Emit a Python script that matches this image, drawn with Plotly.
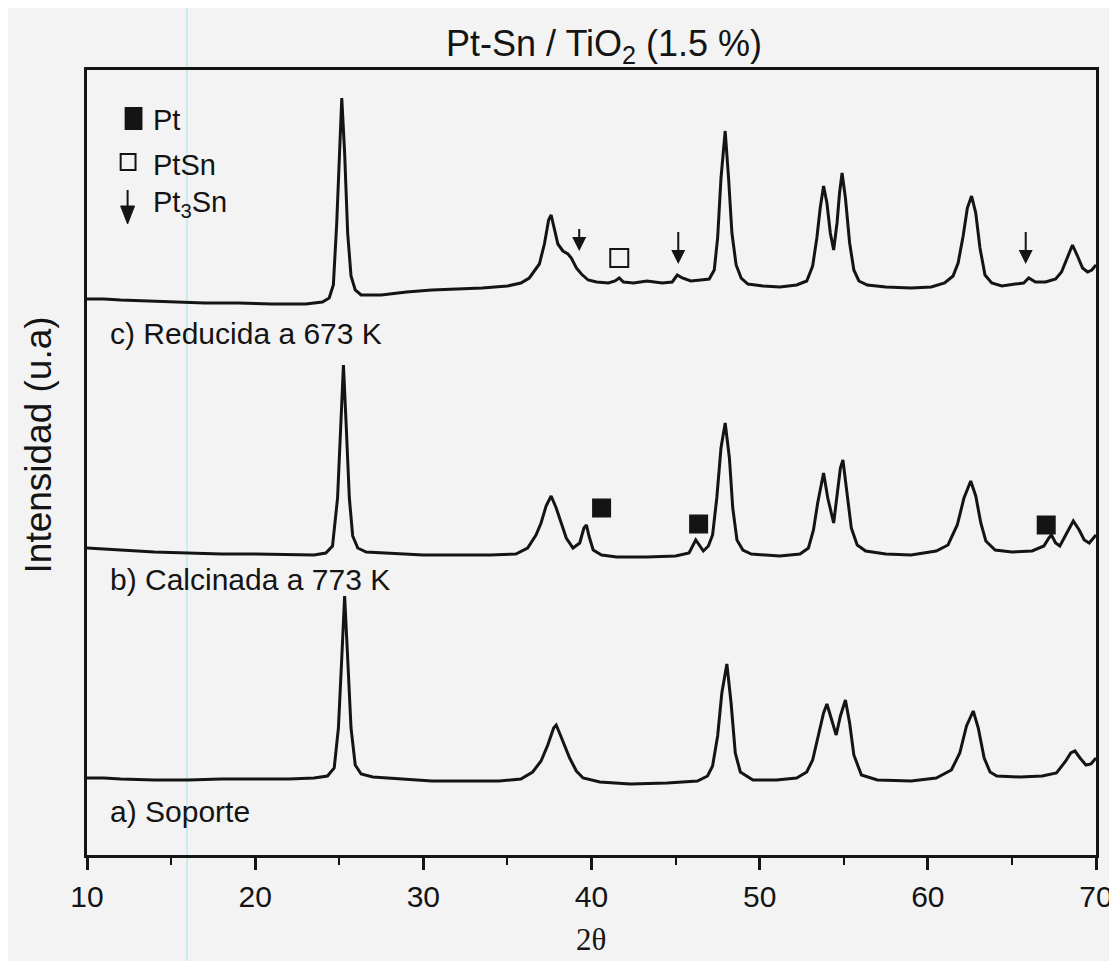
import plotly.graph_objects as go

# ---------------- data (2-theta in degrees, intensity in arbitrary units, stacked) -------------
theta_c = [10.0, 11.0, 12.0, 13.5, 15.0, 17.0, 19.0, 21.0, 23.0, 24.0, 24.4, 24.65, 24.85, 25.0, 25.15,
           25.32, 25.5, 25.7, 25.95, 26.3, 27.5, 29.0, 30.5, 32.0, 33.5, 35.0, 35.8, 36.3, 36.7, 36.9,
           37.2, 37.45, 37.6, 37.8, 38.0, 38.3, 38.6, 38.8, 39.1, 39.4, 39.8, 40.3, 41.0, 41.4, 41.65,
           41.9, 42.5, 43.3, 44.2, 44.8, 45.1, 45.4, 45.9, 46.5, 47.0, 47.3, 47.5, 47.7, 47.95, 48.15,
           48.35, 48.6, 48.9, 49.3, 50.2, 51.2, 52.2, 52.8, 53.15, 53.4, 53.6, 53.8, 54.0, 54.2, 54.4,
           54.6, 54.75, 54.9, 55.1, 55.35, 55.6, 55.9, 56.4, 57.5, 59.0, 60.2, 61.0, 61.5, 61.8, 62.1,
           62.35, 62.6, 62.85, 63.1, 63.4, 63.8, 64.4, 65.2, 65.7, 66.0, 66.4, 67.0, 67.6, 67.95, 68.25,
           68.6, 68.9, 69.2, 69.5, 69.75, 70.0]
int_c = [556, 556, 555, 554, 553, 552, 552, 551, 551, 553, 557, 570, 632, 702, 757,
         702, 622, 579, 565, 560, 560, 563, 565, 566, 567, 569, 572, 577, 587, 591,
         611, 635, 640, 627, 611, 604, 601, 597, 587, 581, 575, 573, 572, 574, 577,
         573, 572, 574, 572, 573, 580, 577, 574, 575, 576, 585, 617, 677, 724, 677,
         622, 590, 577, 571, 569, 568, 570, 574, 589, 617, 647, 669, 652, 622, 605,
         632, 662, 682, 657, 612, 585, 574, 570, 568, 567, 568, 572, 579, 592, 619,
         647, 659, 642, 607, 580, 572, 569, 571, 572, 577, 573, 573, 576, 583, 595,
         610, 599, 587, 583, 585, 590]

theta_b = [10.0, 11.0, 12.0, 14.0, 16.0, 18.0, 20.0, 22.0, 23.5, 24.2, 24.6, 24.9, 25.1, 25.25, 25.42,
           25.6, 25.8, 26.1, 26.6, 28.0, 30.0, 32.0, 34.0, 35.5, 36.2, 36.7, 37.0, 37.3, 37.6, 37.9,
           38.2, 38.5, 38.9, 39.3, 39.55, 39.7, 39.85, 40.1, 40.6, 41.5, 43.3, 45.0, 45.8, 46.2, 46.65,
           46.95, 47.2, 47.45, 47.7, 47.95, 48.2, 48.4, 48.65, 49.0, 49.5, 51.2, 52.4, 52.9, 53.2, 53.45,
           53.8, 54.05, 54.4, 54.6, 54.8, 54.95, 55.15, 55.45, 55.8, 56.3, 57.5, 59.0, 60.5, 61.2, 61.75,
           62.15, 62.55, 62.85, 63.15, 63.45, 64.0, 65.0, 66.2, 66.9, 67.2, 67.35, 67.6, 67.85, 68.2, 68.65,
           69.0, 69.3, 69.6, 69.85, 70.0]
int_b = [307, 306, 305, 303, 302, 301, 301, 300, 300, 302, 309, 357, 427, 490, 427,
         357, 319, 307, 303, 302, 300, 300, 300, 301, 307, 320, 332, 349, 359, 347,
         331, 317, 307, 312, 327, 330, 319, 305, 300, 298, 298, 299, 302, 315, 304,
         309, 320, 357, 407, 432, 397, 347, 315, 305, 301, 299, 301, 307, 325, 352,
         382, 357, 332, 357, 387, 395, 367, 327, 310, 304, 301, 300, 304, 310, 330,
         357, 374, 359, 332, 314, 305, 303, 304, 309, 317, 320, 312, 309, 320, 334,
         325, 315, 312, 317, 320]

theta_a = [10.0, 11.0, 12.0, 14.0, 16.0, 18.0, 20.0, 22.0, 23.5, 24.3, 24.7, 24.95, 25.15, 25.32, 25.5,
           25.7, 25.95, 26.3, 27.0, 28.5, 30.5, 32.5, 34.5, 35.8, 36.5, 37.0, 37.4, 37.75, 37.9, 38.1,
           38.4, 38.7, 39.1, 39.5, 40.5, 42.3, 44.5, 46.3, 46.9, 47.2, 47.5, 47.75, 48.05, 48.3, 48.55,
           48.85, 49.6, 51.0, 52.2, 52.8, 53.15, 53.5, 53.8, 54.0, 54.25, 54.55, 54.8, 55.1, 55.35, 55.6,
           56.05, 57.0, 59.0, 60.5, 61.4, 61.9, 62.3, 62.7, 63.0, 63.35, 63.7, 64.1, 65.5, 66.8, 67.65,
           68.2, 68.5, 68.75, 69.05, 69.4, 69.7, 70.0]
int_a = [77, 77, 76, 75, 75, 76, 76, 76, 77, 79, 87, 127, 197, 259, 197,
         127, 90, 81, 78, 76, 74, 74, 74, 76, 83, 94, 110, 127, 130, 122,
         109, 97, 84, 77, 73, 71, 72, 74, 79, 89, 119, 162, 191, 152, 102,
         83, 75, 75, 77, 83, 95, 120, 142, 151, 137, 120, 139, 155, 132, 100,
         80, 75, 74, 77, 85, 102, 129, 144, 127, 97, 83, 79, 78, 79, 82,
         94, 102, 104, 97, 90, 91, 97]

# phase marks
pt_theta = [40.6, 46.37, 67.04]          # Pt (filled squares, pattern b)
pt_level = [347, 331, 330]
ptsn_theta = [41.65]                     # PtSn (open square, pattern c)
ptsn_level = [597]
pt3sn_theta = [39.27, 45.16, 65.82]      # Pt3Sn (arrows, pattern c)
pt3sn_top = [626, 623, 623]
pt3sn_tip = [604, 591, 591]

curve_labels = ["c) Reducida a 673 K", "b) Calcinada a 773 K", "a) Soporte"]
tick_vals = [10, 20, 30, 40, 50, 60, 70]

# ---------------- figure -------------
INK = "#141414"
SANS = "Liberation Sans, Arial, sans-serif"
fig = go.Figure()

for th, it in [(theta_a, int_a), (theta_b, int_b), (theta_c, int_c)]:
    fig.add_trace(go.Scatter(x=th, y=it, mode="lines",
                             line=dict(color=INK, width=3), showlegend=False,
                             hoverinfo="skip"))

# Pt3Sn arrows: shafts + heads
sx, sy = [], []
for t, a, b in zip(pt3sn_theta, pt3sn_top, pt3sn_tip):
    sx += [t, t, None]
    sy += [a, b + 6, None]
fig.add_trace(go.Scatter(x=sx, y=sy, mode="lines", line=dict(color=INK, width=2),
                         showlegend=False, hoverinfo="skip"))
fig.add_trace(go.Scatter(x=pt3sn_theta, y=pt3sn_tip, mode="markers",
                         marker=dict(symbol="arrow-down", size=14, color=INK,
                                     line=dict(width=0)),
                         showlegend=False, hoverinfo="skip"))
# Pt filled squares
fig.add_trace(go.Scatter(x=pt_theta, y=pt_level, mode="markers",
                         marker=dict(symbol="square", size=19, color=INK, line=dict(width=0)),
                         showlegend=False, hoverinfo="skip"))
# PtSn open square
fig.add_trace(go.Scatter(x=ptsn_theta, y=ptsn_level, mode="markers",
                         marker=dict(symbol="square-open", size=18, color=INK, line=dict(width=2)),
                         showlegend=False, hoverinfo="skip"))

L, R, T, B = 79, 19, 62, 114
W, H = 1117, 961
pw, ph = W - L - R, H - T - B


def px2paper(px, py):
    return (px - L) / pw, (H - B - py) / ph


annotations = []
# title
tx, ty = px2paper(601, 38)
annotations.append(dict(text="Pt-Sn / TiO<sub>2</sub> (1.5 %)", x=tx, y=ty, xref="paper", yref="paper",
                        showarrow=False, xanchor="center", yanchor="middle",
                        font=dict(family=SANS, size=36, color=INK)))
# y title
yx, yy = px2paper(30, 437)
annotations.append(dict(text="Intensidad (u.a)", x=yx, y=yy, xref="paper", yref="paper",
                        showarrow=False, textangle=-90, xanchor="center", yanchor="middle",
                        font=dict(family=SANS, size=37, color=INK)))
# x title
xx, xy = px2paper(588, 931)
annotations.append(dict(text="2θ", x=xx, y=xy, xref="paper", yref="paper",
                        showarrow=False, xanchor="center", yanchor="middle",
                        font=dict(family="Liberation Serif, Times New Roman, serif", size=31, color=INK)))
# curve labels
for txt, py in zip(curve_labels, [325, 571, 803]):
    lx, ly = px2paper(100, py)
    annotations.append(dict(text=txt, x=lx, y=ly, xref="paper", yref="paper",
                            showarrow=False, xanchor="left", yanchor="middle",
                            font=dict(family=SANS, size=30, color=INK)))
# legend texts
for txt, py in zip(["Pt", "PtSn", "Pt<sub>3</sub>Sn"], [112, 157, 196]):
    lx, ly = px2paper(144, py)
    annotations.append(dict(text=txt, x=lx, y=ly, xref="paper", yref="paper",
                            showarrow=False, xanchor="left", yanchor="middle",
                            font=dict(family=SANS, size=29, color=INK)))

shapes = []
# legend glyphs
x0, y0 = px2paper(117, 122)
x1, y1 = px2paper(135, 99)
shapes.append(dict(type="rect", xref="paper", yref="paper", x0=x0, y0=y0, x1=x1, y1=y1,
                   fillcolor=INK, line=dict(width=0)))
x0, y0 = px2paper(113, 162)
x1, y1 = px2paper(128, 146)
shapes.append(dict(type="rect", xref="paper", yref="paper", x0=x0, y0=y0, x1=x1, y1=y1,
                   fillcolor="rgba(0,0,0,0)", line=dict(color=INK, width=2)))
ax0, ay0 = px2paper(120, 182)
ax1, ay1 = px2paper(120, 202)
shapes.append(dict(type="line", xref="paper", yref="paper", x0=ax0, y0=ay0, x1=ax1, y1=ay1,
                   line=dict(color=INK, width=2)))
p1 = px2paper(113, 198)
p2 = px2paper(127, 198)
p3 = px2paper(120, 216)
shapes.append(dict(type="path", xref="paper", yref="paper",
                   path=f"M {p1[0]},{p1[1]} L {p2[0]},{p2[1]} L {p3[0]},{p3[1]} Z",
                   fillcolor=INK, line=dict(color=INK, width=1)))
# faint scanner streak
cx, _ = px2paper(180, 0)
shapes.append(dict(type="line", xref="paper", yref="paper", x0=cx, x1=cx,
                   y0=(H - B - H) / ph, y1=(H - B) / ph,
                   line=dict(color="#a6e3f0", width=1), layer="below"))

fig.update_layout(
    width=W, height=H,
    margin=dict(l=L, r=R, t=T, b=B, pad=0),
    paper_bgcolor="#f3f3f3", plot_bgcolor="#f3f3f3",
    showlegend=False,
    annotations=annotations,
    shapes=shapes,
    font=dict(family=SANS, color=INK),
)
fig.update_xaxes(range=[10, 70], tickvals=tick_vals, ticks="outside", ticklen=12, tickwidth=2.5,
                 tickcolor=INK, showline=True, linewidth=3, linecolor=INK, mirror=True,
                 showgrid=False, zeroline=False, ticklabelstandoff=1,
                 tickfont=dict(family=SANS, size=30, color=INK),
                 minor=dict(ticks="outside", ticklen=7, tickwidth=2, tickcolor=INK, dtick=5,
                            tick0=5, showgrid=False))
fig.update_yaxes(range=[0, 785], showticklabels=False, ticks="", showline=True, linewidth=3,
                 linecolor=INK, mirror=True, showgrid=False, zeroline=False)

fig.write_html("out.html")
